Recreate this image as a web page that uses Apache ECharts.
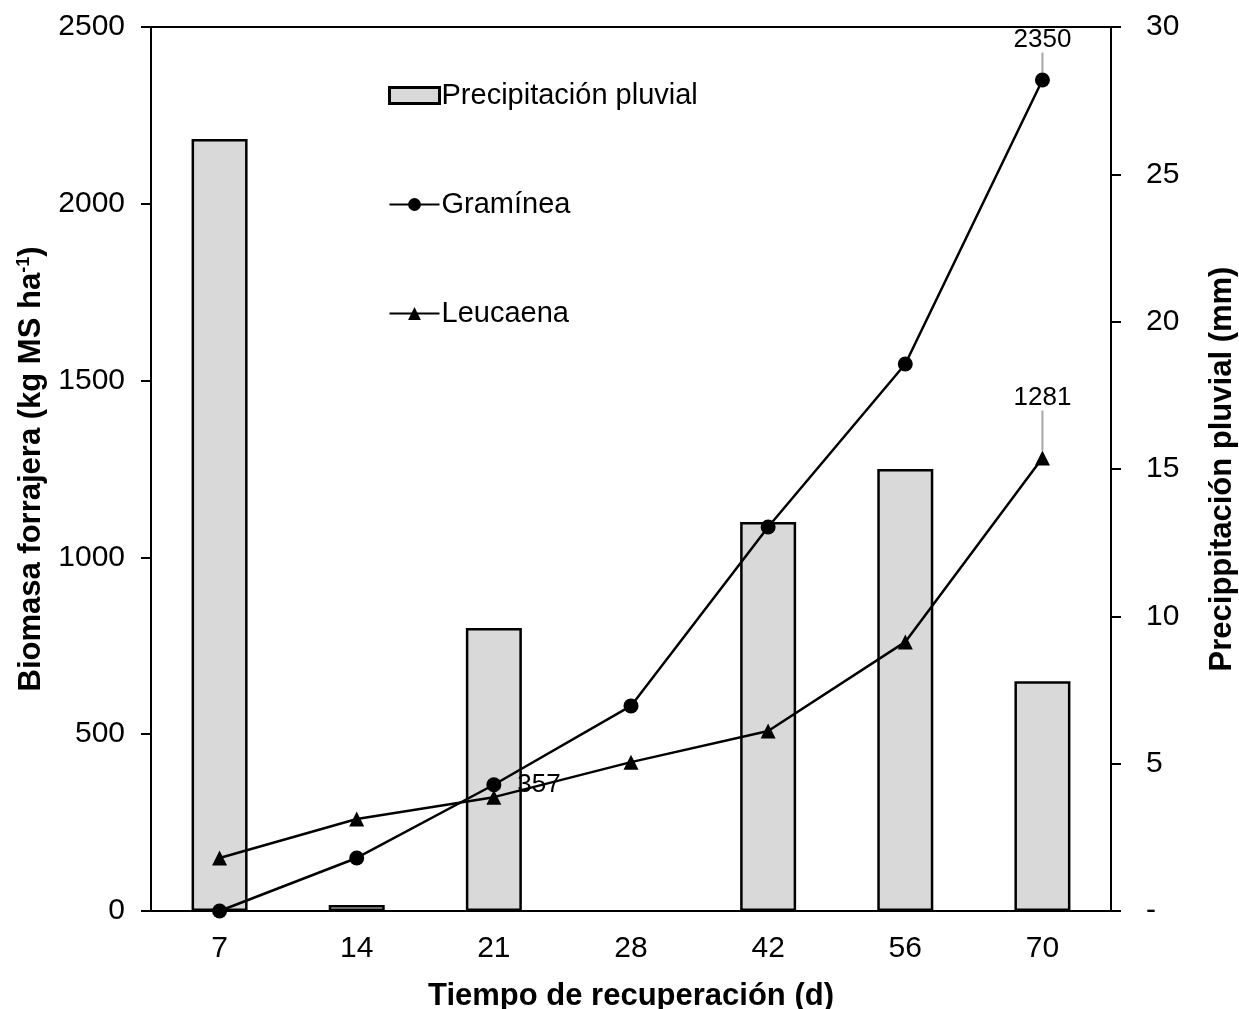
<!DOCTYPE html>
<html><head><meta charset="utf-8">
<script src="https://cdn.jsdelivr.net/npm/echarts@6/dist/echarts.min.js"></script>
<style>html,body{margin:0;padding:0;background:#fff}#c{width:1239px;height:1009px}</style>
</head><body><div id="c"></div>
<script>
const categories = ['7', '14', '21', '28', '42', '56', '70'];
const precipitacion = [26.2, 0.2, 9.6, 0, 13.2, 15.0, 7.8];
const graminea = [0, 150, 357, 580, 1086, 1547, 2350];
const leucaena = [150, 260, 322, 421, 509, 761, 1281];
const leftTicks = [0, 500, 1000, 1500, 2000, 2500];
const rightTicks = [0, 5, 10, 15, 20, 25, 30];
const grLabelIdx = {2: 'right', 6: 'top'};
const leLabelIdx = {6: 'top'};

const FONT = 'Liberation Sans, Arial, sans-serif';
const chart = echarts.init(document.getElementById('c'), null, {renderer: 'canvas'});

function lineData(vals, labelIdx) {
  return vals.map((v, i) => {
    if (labelIdx[i] === undefined) return v;
    const pos = labelIdx[i];
    return {value: v,
      label: {show: true, position: pos, distance: pos === 'right' ? 16 : 8,
        color: '#000', fontSize: 26, fontFamily: FONT},
      labelLine: {show: pos === 'top'}};
  });
}
function layoutFn(labelIdx, dy) {
  return function (p) {
    if (labelIdx[p.dataIndex] === 'top') return {dy: dy};
    return {};
  };
}
const barData = precipitacion.map(v => v === 0 ? {value: v, itemStyle: {borderWidth: 0}} : v);

chart.setOption({
  animation: false,
  backgroundColor: '#fff',
  textStyle: {fontFamily: FONT, color: '#000'},
  grid: {left: 151, right: 128, top: 27, bottom: 98, show: true, borderColor: '#000', borderWidth: 2,
    containLabel: false, outerBoundsMode: 'none'},
  legend: {
    orient: 'vertical', left: 383, top: 76, itemGap: 80,
    itemWidth: 50, itemHeight: 16,
    textStyle: {fontSize: 29, color: '#000', fontFamily: FONT, padding: [0, 0, 0, -3]},
    data: [
      {name: 'Precipitación pluvial', icon: 'rect', itemStyle: {borderWidth: 3}},
      {name: 'Gramínea'},
      {name: 'Leucaena'}
    ]
  },
  xAxis: {
    type: 'category', data: categories, boundaryGap: true,
    name: 'Tiempo de recuperación (d)', nameLocation: 'middle', nameGap: 70,
    nameTextStyle: {fontSize: 31, fontWeight: 'bold', color: '#000', fontFamily: FONT},
    axisLine: {lineStyle: {color: '#000', width: 2}},
    axisTick: {alignWithLabel: true, length: 7, lineStyle: {color: '#000', width: 2}},
    axisLabel: {fontSize: 30, color: '#000', margin: 23, fontFamily: FONT},
    z: 10
  },
  yAxis: [
    {
      type: 'value', min: 0, max: 2500, interval: 500, position: 'left',
      name: '{a|Biomasa forrajera (kg MS ha}{s|-1}{a|)}', nameLocation: 'middle', nameGap: 104, nameRotate: 90,
      nameTextStyle: {rich: {
        a: {fontSize: 31, fontWeight: 'bold', color: '#000', fontFamily: FONT},
        s: {fontSize: 18, fontWeight: 'bold', color: '#000', fontFamily: FONT, padding: [0, 0, 14, 0]}
      }},
      axisLine: {show: true, lineStyle: {color: '#000', width: 2}},
      axisTick: {show: true, length: 10, lineStyle: {color: '#000', width: 2}},
      axisLabel: {fontSize: 30, color: '#000', margin: 26, fontFamily: FONT,
        formatter: v => String(v)},
      splitLine: {show: false}
    },
    {
      type: 'value', min: 0, max: 30, interval: 5, position: 'right',
      name: 'Precippitación pluvial (mm)', nameLocation: 'middle', nameGap: 96, nameRotate: 90,
      nameTextStyle: {fontSize: 31, fontWeight: 'bold', color: '#000', fontFamily: FONT},
      axisLine: {show: true, lineStyle: {color: '#000', width: 2}},
      axisTick: {show: true, length: 10, lineStyle: {color: '#000', width: 2}},
      axisLabel: {fontSize: 30, color: '#000', margin: 35, fontFamily: FONT,
        formatter: v => v === 0 ? '-' : String(v)},
      splitLine: {show: false}
    }
  ],
  series: [
    {
      name: 'Precipitación pluvial', type: 'bar', yAxisIndex: 1, data: barData,
      barWidth: 56,
      itemStyle: {color: '#d9d9d9', borderColor: '#000', borderWidth: 2.5}
    },
    {
      name: 'Gramínea', type: 'line', yAxisIndex: 0, data: lineData(graminea, grLabelIdx),
      symbol: 'circle', symbolSize: 15, z: 12,
      lineStyle: {color: '#000', width: 2.5}, itemStyle: {color: '#000'},
      labelLine: {show: true, lineStyle: {color: '#a6a6a6', width: 2}},
      labelLayout: layoutFn(grLabelIdx, -12)
    },
    {
      name: 'Leucaena', type: 'line', yAxisIndex: 0, data: lineData(leucaena, leLabelIdx),
      symbol: 'triangle', symbolSize: 15, z: 12,
      lineStyle: {color: '#000', width: 2.5}, itemStyle: {color: '#000'},
      labelLine: {show: true, lineStyle: {color: '#a6a6a6', width: 2}},
      labelLayout: layoutFn(leLabelIdx, -32)
    }
  ]
});
</script></body></html>
